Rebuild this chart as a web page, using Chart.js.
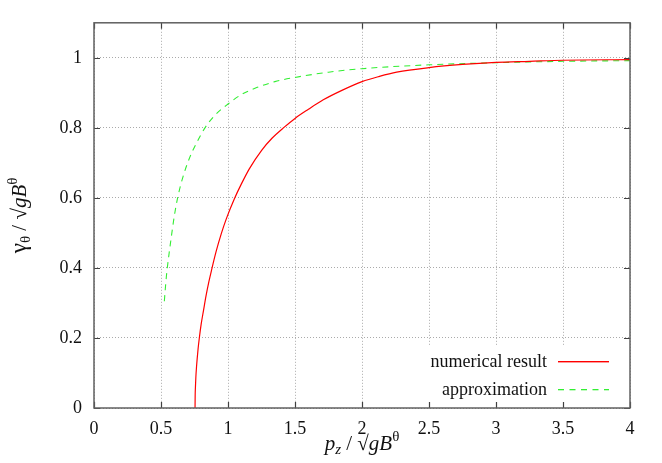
<!DOCTYPE html>
<html><head><meta charset="utf-8">
<script src="https://cdn.jsdelivr.net/npm/chart.js@4.4.1/dist/chart.umd.min.js"></script>
<style>html,body{margin:0;padding:0;background:#fff;}canvas{display:block;}</style>
</head><body>
<canvas id="c" width="662" height="463"></canvas>
<script>
// ---- data ----
const numericalX = [0.754, 0.755, 0.757, 0.760, 0.765, 0.770, 0.777, 0.786, 0.800, 0.817, 0.836, 0.857, 0.878, 0.910, 0.950, 0.990, 1.047, 1.100, 1.159, 1.251, 1.330, 1.420, 1.500, 1.600, 1.711, 1.850, 2.000, 2.130, 2.259, 2.500, 2.750, 3.000, 3.250, 3.500, 4.000];
const numericalY = [0.000, 0.035, 0.060, 0.087, 0.117, 0.141, 0.170, 0.200, 0.240, 0.278, 0.320, 0.360, 0.395, 0.445, 0.498, 0.543, 0.597, 0.640, 0.683, 0.736, 0.771, 0.802, 0.827, 0.853, 0.880, 0.907, 0.932, 0.947, 0.959, 0.972, 0.981, 0.987, 0.990, 0.993, 0.995];
const approxX = [0.525, 0.530, 0.540, 0.547, 0.560, 0.575, 0.600, 0.624, 0.660, 0.716, 0.760, 0.828, 0.900, 1.000, 1.100, 1.214, 1.350, 1.500, 1.750, 2.000, 2.500, 3.000, 3.500, 4.000];
const approxY = [0.305, 0.330, 0.375, 0.400, 0.440, 0.483, 0.550, 0.600, 0.655, 0.717, 0.753, 0.800, 0.835, 0.868, 0.895, 0.915, 0.932, 0.944, 0.959, 0.969, 0.980, 0.986, 0.990, 0.992];
const seriesNames = ['numerical result', 'approximation'];
const seriesColors = ['#ff0000', '#33ee33'];
const xTickValues = [0, 0.5, 1, 1.5, 2, 2.5, 3, 3.5, 4];
const yTickValues = [0, 0.2, 0.4, 0.6, 0.8, 1];
const xTickLabels = ['0', '0.5', '1', '1.5', '2', '2.5', '3', '3.5', '4'];
const yTickLabels = ['0', '0.2', '0.4', '0.6', '0.8', '1'];

const SERIF = '"Liberation Serif", "DejaVu Serif", serif';
const toPoints = (xs, ys) => xs.map((x, i) => ({x: x, y: ys[i]}));

function drawRuns(ctx, runs, x, y) {
  let total = 0;
  runs.forEach(r => { ctx.font = r.font; r.w = ctx.measureText(r.t).width; total += r.w; });
  let cx = x - total / 2;
  ctx.textAlign = 'left';
  ctx.textBaseline = 'alphabetic';
  runs.forEach(r => { ctx.font = r.font; ctx.fillText(r.t, cx, y + (r.dy || 0)); cx += r.w; });
}

const gnuplotFrame = {
  id: 'gnuplotFrame',
  beforeDatasetsDraw(chart) {
    const ctx = chart.ctx, a = chart.chartArea;
    ctx.save();
    ctx.fillStyle = '#ffffff';
    ctx.fillRect(420, 346, a.right - 420 - 1, a.bottom - 346 - 1);
    ctx.restore();
  },
  afterDraw(chart) {
    const ctx = chart.ctx, a = chart.chartArea;
    const xs = chart.scales.x, ys = chart.scales.y;
    ctx.save();
    // ticks inward on all four sides
    ctx.strokeStyle = '#404040';
    ctx.lineWidth = 1.2;
    const tl = 6;
    xTickValues.forEach(v => {
      const px = Math.round(xs.getPixelForValue(v)) + 0.5;
      ctx.beginPath();
      ctx.moveTo(px, a.bottom); ctx.lineTo(px, a.bottom - tl);
      ctx.moveTo(px, a.top); ctx.lineTo(px, a.top + tl);
      ctx.stroke();
    });
    yTickValues.forEach(v => {
      const py = Math.round(ys.getPixelForValue(v)) + 0.5;
      ctx.beginPath();
      ctx.moveTo(a.left, py); ctx.lineTo(a.left + tl, py);
      ctx.moveTo(a.right, py); ctx.lineTo(a.right - tl, py);
      ctx.stroke();
    });
    // border
    ctx.strokeStyle = '#606060';
    ctx.lineWidth = 1.5;
    ctx.strokeRect(a.left, a.top, a.right - a.left, a.bottom - a.top);

    // legend (gnuplot style: text then sample)
    ctx.font = '18px ' + SERIF;
    ctx.textAlign = 'right';
    ctx.textBaseline = 'alphabetic';
    const rows = [361, 389];
    seriesNames.forEach((name, i) => {
      ctx.fillStyle = '#111111';
      ctx.fillText(name, 547, rows[i] + 5.5);
    });
    // solid red sample
    ctx.fillStyle = seriesColors[0];
    ctx.fillRect(558, rows[0], 51, 1.4);
    // dashed green sample
    ctx.fillStyle = seriesColors[1];
    for (let x0 = 558; x0 < 609; x0 += 11.5) {
      ctx.fillRect(x0, rows[1], Math.min(6, 609 - x0), 1.3);
    }

    // axis titles
    ctx.fillStyle = '#111111';
    const big = '21px ' + SERIF, bigI = 'italic 21px ' + SERIF, small = '15px ' + SERIF, smallI = 'italic 15px ' + SERIF;
    drawRuns(ctx, [
      {t: 'p', font: bigI}, {t: 'z', font: smallI, dy: 4},
      {t: ' / \u221A', font: big}, {t: 'g', font: bigI}, {t: 'B', font: bigI},
      {t: '\u03B8', font: small, dy: -9}
    ], (a.left + a.right) / 2, 450);
    ctx.save();
    ctx.translate(26, (a.top + a.bottom) / 2);
    ctx.rotate(-Math.PI / 2);
    drawRuns(ctx, [
      {t: '\u03B3', font: '23px ' + SERIF}, {t: '\u03B8', font: small, dy: 4},
      {t: ' / \u221A', font: big}, {t: 'g', font: bigI}, {t: 'B', font: bigI},
      {t: '\u03B8', font: small, dy: -9}
    ], 0, 0);
    ctx.restore();
    ctx.restore();
  }
};

new Chart(document.getElementById('c'), {
  type: 'line',
  data: {
    datasets: [
      {label: seriesNames[0], data: toPoints(numericalX, numericalY), borderColor: seriesColors[0], borderWidth: 1.2, pointRadius: 0, cubicInterpolationMode: 'monotone', fill: false},
      {label: seriesNames[1], data: toPoints(approxX, approxY), borderColor: seriesColors[1], borderWidth: 1.1, borderDash: [6, 5], pointRadius: 0, cubicInterpolationMode: 'monotone', fill: false}
    ]
  },
  options: {
    responsive: false,
    animation: false,
    devicePixelRatio: 1,
    layout: {padding: {top: 22, right: 32, left: 0, bottom: 0}},
    plugins: {legend: {display: false}, tooltip: {enabled: false}},
    scales: {
      x: {
        type: 'linear', min: 0, max: 4,
        afterBuildTicks: s => { s.ticks = xTickValues.map(v => ({value: v})); },
        afterFit: s => { s.height = 55; },
        border: {display: false, dash: [1, 2]},
        grid: {color: '#aaaaaa', lineWidth: 1, drawTicks: false},
        ticks: {padding: 10, color: '#111', font: {family: SERIF, size: 18}, maxRotation: 0,
          callback: (v, i) => xTickLabels[i]}
      },
      y: {
        type: 'linear', min: 0, max: 1.1,
        afterBuildTicks: s => { s.ticks = yTickValues.map(v => ({value: v})); },
        afterFit: s => { s.width = 94; },
        border: {display: false, dash: [1, 2]},
        grid: {color: '#aaaaaa', lineWidth: 1, drawTicks: false},
        ticks: {padding: 12, color: '#111', font: {family: SERIF, size: 18},
          callback: (v, i) => yTickLabels[i]}
      }
    }
  },
  plugins: [gnuplotFrame]
});
</script>
</body></html>
